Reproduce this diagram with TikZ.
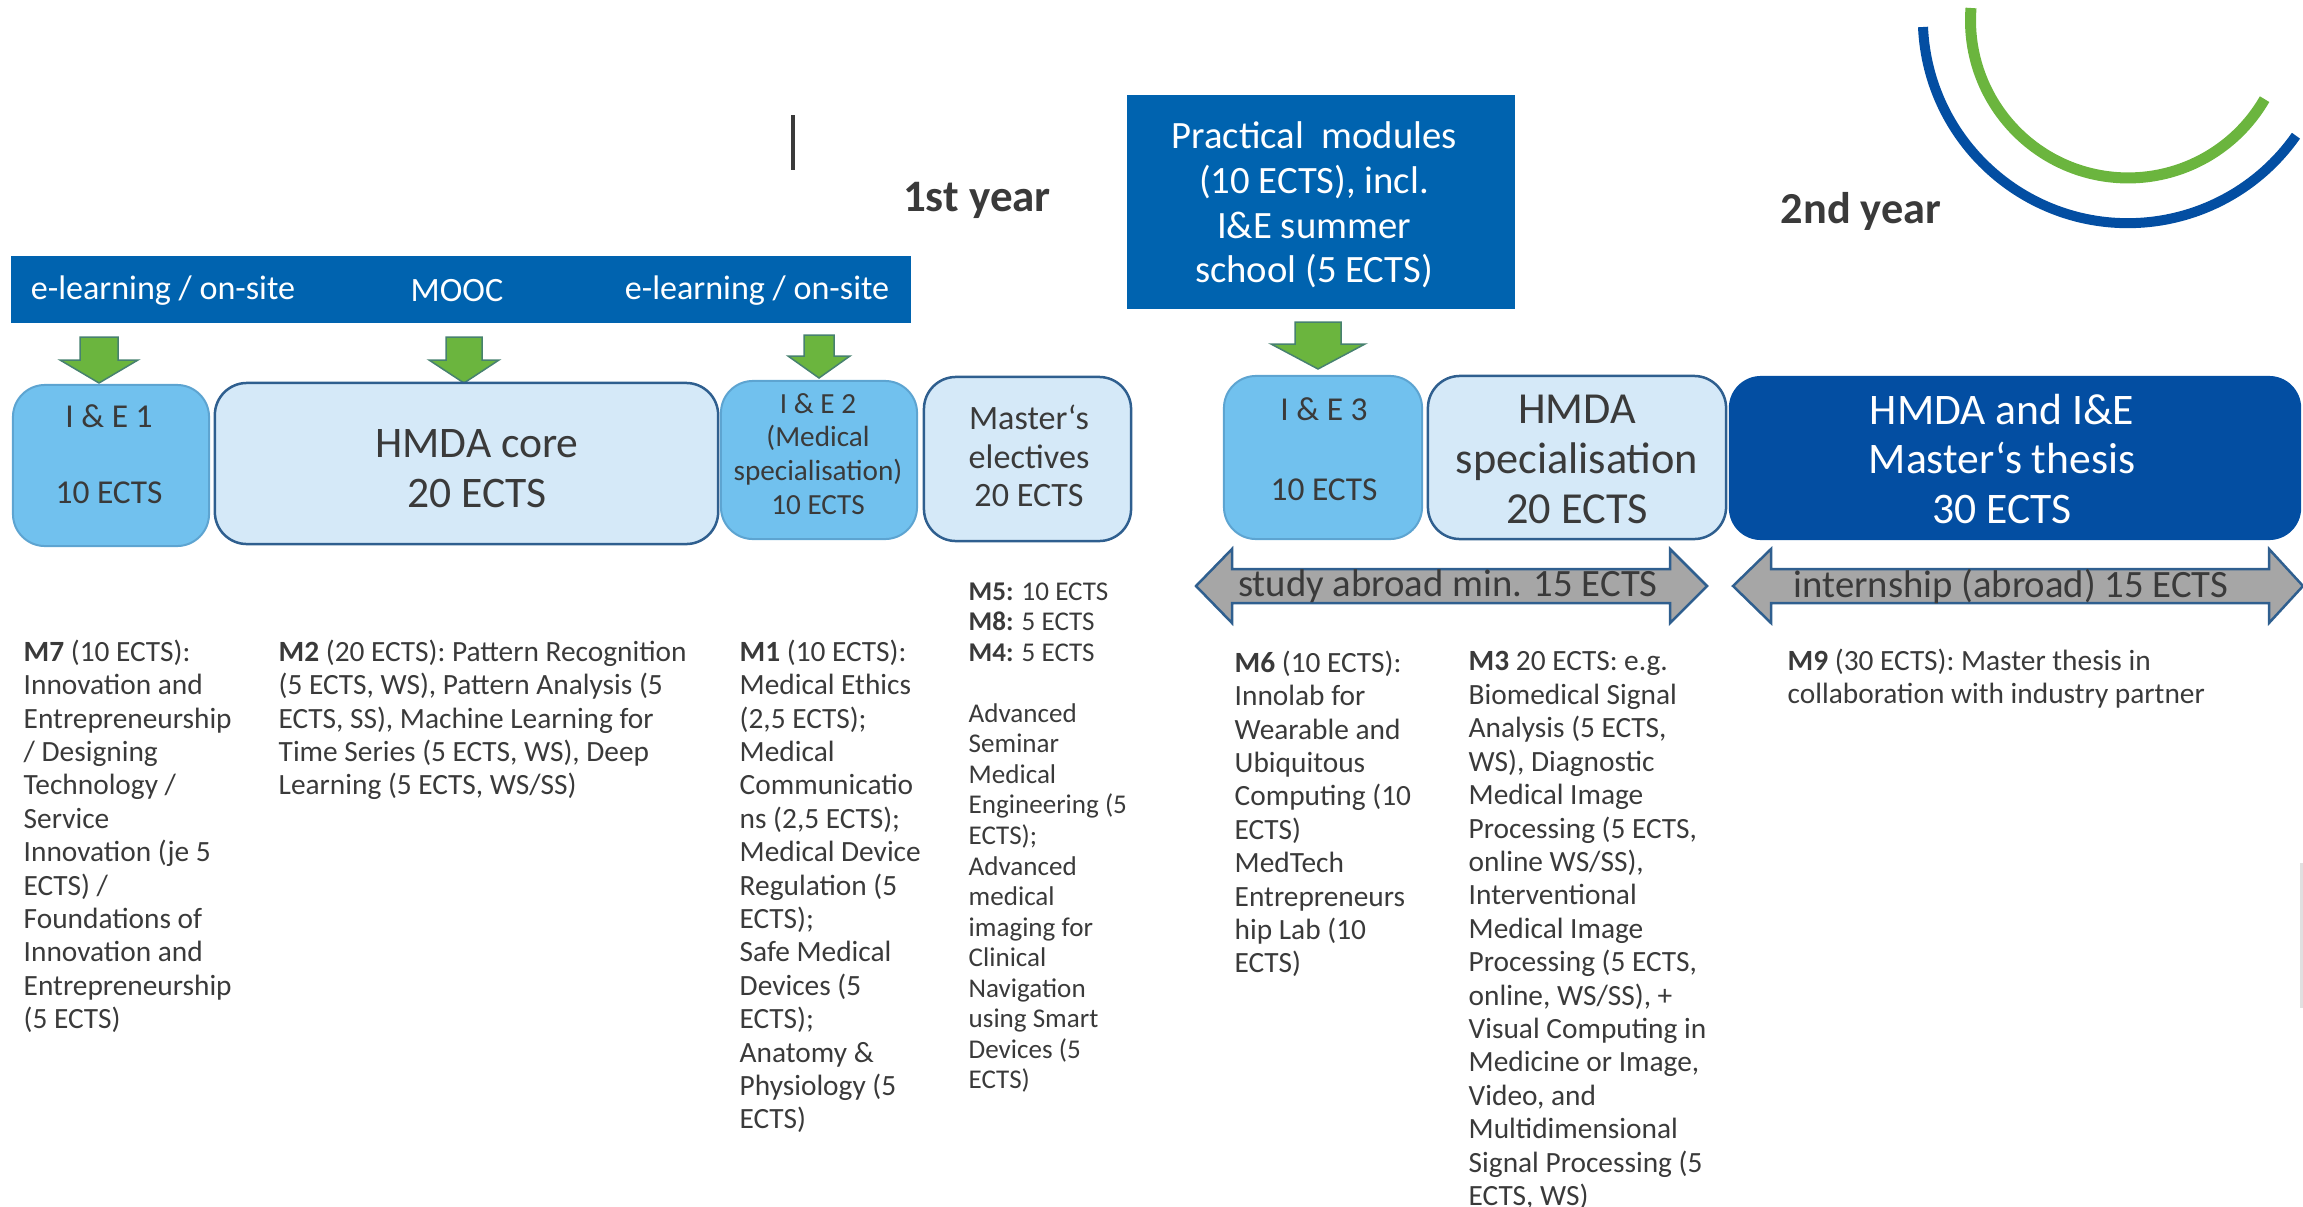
\documentclass[tikz,border=0pt]{standalone}
\usepackage{fontspec}
\setmainfont{Carlito}
\usepackage{xcolor}
\definecolor{bannerblue}{HTML}{0063AF}
\definecolor{ieblue}{HTML}{71C1EE}
\definecolor{paleblue}{HTML}{D5E9F8}
\definecolor{thesisblue}{HTML}{034EA2}
\definecolor{edgeblue}{HTML}{2F5F8F}
\definecolor{arrowgreen}{HTML}{6BB53E}
\definecolor{arrowgray}{HTML}{A6A6A6}
\definecolor{textgray}{HTML}{3A3A3A}
\tikzset{%
	banner/.style     = {fill=bannerblue, text=white, inner sep=0pt, align=center},
	iebox/.style      = {draw=ieblue!70!edgeblue, fill=ieblue, rounded corners=0.32cm, inner sep=0pt, line width=0.02cm},
	corebox/.style    = {draw=edgeblue, fill=paleblue, rounded corners=0.32cm, inner sep=0pt, line width=0.025cm},
	thesisbox/.style  = {fill=thesisblue, rounded corners=0.32cm, inner sep=0pt},
	greenarrow/.style = {draw=edgeblue!60!arrowgreen, fill=arrowgreen, line width=0.015cm},
	grayarrow/.style  = {draw=edgeblue, fill=arrowgray, line width=0.025cm},
	boxtext/.style    = {text=textgray, align=center, inner sep=0pt},
	modtext/.style    = {text=textgray, align=left, anchor=north west, inner sep=0pt},
	modlong/.style    = {modtext, font=\fontsize{8.35}{9.5}\selectfont},
	modtight/.style   = {modtext, font=\fontsize{7.7}{8.68}\selectfont},
}
\begin{document}
\begin{tikzpicture}[x=0.01cm,y=-0.01cm]
	\useasboundingbox (0,0) rectangle (2303,1206);
	
	\draw[line width=0.035cm,color=textgray] (793,115) -- (793,170); % stray mark
	\draw[line width=0.03cm,color=black!12] (2301,863) -- (2301,1008); % faint edge
	\node[font=\bfseries\fontsize{12.8}{14}\selectfont,text=textgray,inner sep=0pt] (firstyear) at (977,200) {1st year};
	\node[font=\bfseries\fontsize{12.6}{14}\selectfont,text=textgray,inner sep=0pt] (secondyear) at (1861,211) {2nd year};
	
	% logo arcs
	\draw[color=thesisblue,line width=0.1cm] (1923,27) arc[start angle=182.5,end angle=325,radius=2.05cm];
	\draw[color=arrowgreen,line width=0.11cm] (1971,8) arc[start angle=175.5,end angle=330,radius=1.575cm];
	
	% blue headers
	\node[banner,minimum width=9cm,minimum height=0.67cm] (online) at (461,289.5) {};
	\node[text=white,inner sep=0pt,font=\fontsize{9.7}{11}\selectfont] (elearnone) at (163,291) {e-learning / on-site};
	\node[text=white,inner sep=0pt,font=\fontsize{9.7}{11}\selectfont] (mooc) at (457,291) {MOOC};
	\node[text=white,inner sep=0pt,font=\fontsize{9.7}{11}\selectfont] (elearntwo) at (757,291) {e-learning / on-site};
	\node[banner,minimum width=3.88cm,minimum height=2.14cm] (practical) at (1321,202) {};
	\node[text=white,align=center,inner sep=0pt,font=\fontsize{11}{12.7}\selectfont] (practicaltext) at (1314,205) {Practical~ modules\\(10 ECTS), incl.\\I\&E summer\\school (5 ECTS)};
	
	% green arrows: tip x, half shaft, half head, top, shoulder, tip y
	\foreach \tipx/\shaft/\head/\ytop/\yhead/\ytip in {99/19/39/337/360/383, 464/18/35/337/360/383, 819/15/31/335/356/378, 1318/23/47/322/344/369}
		\draw[greenarrow] (\tipx-\shaft,\ytop) -- (\tipx+\shaft,\ytop) -- (\tipx+\shaft,\yhead) -- (\tipx+\head,\yhead) -- (\tipx,\ytip) -- (\tipx-\head,\yhead) -- (\tipx-\shaft,\yhead) -- cycle;
	
	% first year blocks
	\node[iebox,minimum width=1.96cm,minimum height=1.61cm] (ieone) at (111,465.5) {};
	\node[corebox,minimum width=5.03cm,minimum height=1.61cm] (hmdacore) at (466.5,463.5) {};
	\node[iebox,minimum width=1.96cm,minimum height=1.58cm] (ietwo) at (819,460) {};
	\node[corebox,minimum width=2.07cm,minimum height=1.64cm] (electives) at (1027.5,459) {};
	\node[boxtext,font=\fontsize{9.5}{21.6}\selectfont] (ieonetext) at (109,454) {I \& E 1\\10 ECTS};
	\node[boxtext,font=\fontsize{12.4}{14.2}\selectfont] (hmdacoretext) at (477,469) {HMDA core\\20 ECTS};
	\node[boxtext,font=\fontsize{8.3}{9.6}\selectfont] (ietwotext) at (818,454) {I \& E 2\\(Medical\\specialisation)\\10 ECTS};
	\node[boxtext,font=\fontsize{9.7}{11}\selectfont] (electivestext) at (1029,456) {Master‘s\\electives\\20 ECTS};
	
	% second year blocks
	\node[iebox,minimum width=1.98cm,minimum height=1.63cm] (iethree) at (1323,457.5) {};
	\node[corebox,minimum width=2.98cm,minimum height=1.63cm] (hmdaspec) at (1577,457.5) {};
	\node[thesisbox,minimum width=5.72cm,minimum height=1.64cm] (thesis) at (2015,458) {};
	\node[boxtext,font=\fontsize{9.5}{22.6}\selectfont] (iethreetext) at (1324,449) {I \& E 3\\10 ECTS};
	\node[boxtext,font=\fontsize{12.6}{14.2}\selectfont] (hmdaspectext) at (1577,459) {HMDA\\specialisation\\20 ECTS};
	\node[boxtext,text=white,font=\fontsize{12.4}{14.2}\selectfont] (thesistext) at (2002,459) {HMDA and I\&E\\Master‘s thesis\\30 ECTS};
	
	% abroad arrows
	\draw[grayarrow] (1196,586) -- (1232,549) -- (1232,569) -- (1670,569) -- (1670,549) -- (1707,586) -- (1670,623) -- (1670,603) -- (1232,603) -- (1232,623) -- cycle;
	\draw[grayarrow] (1733,586) -- (1771,549) -- (1771,569) -- (2269,569) -- (2269,549) -- (2303,586) -- (2269,623) -- (2269,603) -- (1771,603) -- (1771,623) -- cycle;
	\node[boxtext,font=\fontsize{11}{12}\selectfont] (abroad) at (1448,586) {study abroad min. 15 ECTS};
	\node[boxtext,font=\fontsize{11}{12}\selectfont] (internship) at (2011,586) {internship (abroad) 15 ECTS};
	
	% module lists
	\node[modlong] (modseven) at (23,639) {\textbf{M7} (10 ECTS):\\Innovation and\\Entrepreneurship\\/ Designing\\Technology /\\Service\\Innovation (je 5\\ECTS) /\\Foundations of\\Innovation and\\Entrepreneurship\\(5 ECTS)};
	\node[modlong] (modtwo) at (278,639) {\textbf{M2} (20 ECTS): Pattern Recognition\\(5 ECTS, WS), Pattern Analysis (5\\ECTS, SS), Machine Learning for\\Time Series (5 ECTS, WS), Deep\\Learning (5 ECTS, WS/SS)};
	\node[modlong] (modone) at (739,639) {\textbf{M1} (10 ECTS):\\Medical Ethics\\(2,5 ECTS);\\Medical\\Communicatio\\ns (2,5 ECTS);\\Medical Device\\Regulation (5\\ECTS);\\Safe Medical\\Devices (5\\ECTS);\\Anatomy \&\\Physiology (5\\ECTS)};
	\node[modtight] (modfive) at (968,582) {\textbf{M5:} 10 ECTS\\\textbf{M8:} 5 ECTS\\\textbf{M4:} 5 ECTS\\[8.68pt]Advanced\\Seminar\\Medical\\Engineering (5\\ECTS);\\Advanced\\medical\\imaging for\\Clinical\\Navigation\\using Smart\\Devices (5\\ECTS)};
	\node[modlong] (modsix) at (1234,650) {\textbf{M6} (10 ECTS):\\Innolab for\\Wearable and\\Ubiquitous\\Computing (10\\ECTS)\\MedTech\\Entrepreneurs\\hip Lab (10\\ECTS)};
	\node[modlong] (modthree) at (1468,651) {\textbf{M3} 20 ECTS: e.g.\\Biomedical Signal\\Analysis (5 ECTS,\\WS), Diagnostic\\Medical Image\\Processing (5 ECTS,\\online WS/SS),\\Interventional\\Medical Image\\Processing (5 ECTS,\\online, WS/SS), +\\Visual Computing in\\Medicine or Image,\\Video, and\\Multidimensional\\Signal Processing (5\\ECTS, WS)};
	\node[modlong] (modnine) at (1787,648) {\textbf{M9} (30 ECTS): Master thesis in\\collaboration with industry partner};
\end{tikzpicture}
\end{document}
